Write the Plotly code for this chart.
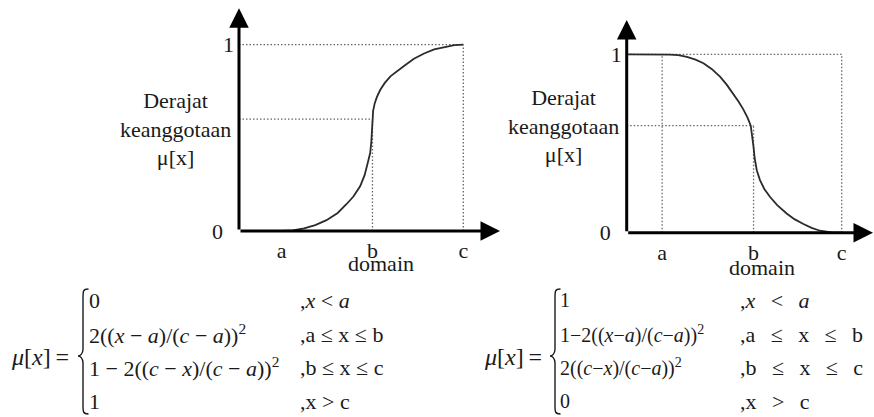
import plotly.graph_objects as go

W, H = 874, 417
FONT = "Liberation Serif, Times New Roman, serif"
INK = "#1a1a1a"

# ---- S-curve (rising): membership degree sampled along the domain ----
grow_x = [1.9, 2.4, 2.9, 3.4, 3.9, 4.4, 4.8, 5.1, 5.4, 5.6, 5.75, 5.85, 5.9, 5.93, 5.95,
          5.98, 6.05, 6.15, 6.3, 6.5, 6.75, 7.05, 7.4, 7.8, 8.25, 8.7, 9.2, 9.6, 10.0]
grow_y = [0.0, 0.003, 0.014, 0.032, 0.058, 0.097, 0.145, 0.185, 0.24, 0.30, 0.37, 0.42, 0.48, 0.54, 0.60,
          0.645, 0.685, 0.72, 0.758, 0.795, 0.83, 0.86, 0.89, 0.925, 0.953, 0.975, 0.99, 0.998, 1.0]
grow_abc = [1.9, 5.95, 10.0]

# ---- S-curve (falling) ----
shrink_x = [0.0, 1.65, 2.0, 2.4, 2.8, 3.2, 3.57, 3.95, 4.34, 4.65, 4.96, 5.2, 5.43, 5.62, 5.77, 5.85,
            5.9, 5.95, 6.05, 6.2, 6.4, 6.67, 7.0, 7.44, 7.8, 8.22, 8.6, 8.99, 9.3, 9.6, 10.0]
shrink_y = [1.0, 1.0, 0.998, 0.995, 0.985, 0.97, 0.95, 0.918, 0.875, 0.83, 0.78, 0.735, 0.69, 0.645, 0.60, 0.54,
            0.48, 0.42, 0.35, 0.295, 0.245, 0.20, 0.155, 0.108, 0.076, 0.049, 0.027, 0.011, 0.004, 0.0, 0.0]
shrink_abc = [1.65, 5.9, 10.0]

mid_level = 0.6
x_tick_text = ["a", "b", "c"]
y_tick_vals = [0, 1]
y_tick_text = ["0\u2002", "1"]

y_title = "Derajat<br>keanggotaan<br>\u03bc[x]"
x_title = "domain"

grow_rows = [
    "0",
    "2((<i>x</i> \u2212 <i>a</i>)/(<i>c</i> \u2212 <i>a</i>))<sup>2</sup>",
    "1 \u2212 2((<i>c</i> \u2212 <i>x</i>)/(<i>c</i> \u2212 <i>a</i>))<sup>2</sup>",
    "1",
]
shrink_rows = [
    "1",
    "1\u22122((<i>x</i>\u2212<i>a</i>)/(<i>c</i>\u2212<i>a</i>))<sup>2</sup>",
    "2((<i>c</i>\u2212<i>x</i>)/(<i>c</i>\u2212<i>a</i>))<sup>2</sup>",
    "0",
]
grow_conditions = [
    ",<i>x</i> &lt; <i>a</i>",
    ",a \u2264 x \u2264 b",
    ",b \u2264 x \u2264 c",
    ",x &gt; c",
]
GAP = "\u2002\u2009"
shrink_conditions = [
    f",<i>x</i>{GAP}&lt;{GAP}<i>a</i>",
    f",a{GAP}\u2264{GAP}x{GAP}\u2264{GAP}b",
    f",b{GAP}\u2264{GAP}x{GAP}\u2264{GAP}c",
    f",x{GAP}&gt;{GAP}c",
]
lhs = "<i>\u03bc</i>[<i>x</i>]\u2009=\u2009"


def px(x):
    return x / W


def py(y):
    return 1 - y / H


# panel geometry in pixels: origin, pixels per domain unit, pixels per membership unit, arrow tips
panels = [
    dict(ox=239.0, oy=231.0, ux=22.43, uy=186.3, tipx=500.0, tipy=8.3),
    dict(ox=626.7, oy=232.7, ux=21.5, uy=178.4, tipx=873.0, tipy=20.0),
]

fig = go.Figure()
layout_axes = {}
for i, p in enumerate(panels):
    sfx = "" if i == 0 else str(i + 1)
    xr = (p["tipx"] - p["ox"]) / p["ux"]
    yr = (p["oy"] - p["tipy"]) / p["uy"]
    p["xr"], p["yr"] = xr, yr
    abc = grow_abc if i == 0 else shrink_abc
    layout_axes["xaxis" + sfx] = dict(
        domain=[px(p["ox"]), px(p["tipx"])], range=[0, xr], anchor="y" + sfx,
        showgrid=False, zeroline=False, showline=False, ticks="",
        tickvals=abc, ticktext=x_tick_text, ticklabelstandoff=4,
        tickfont=dict(family=FONT, size=22, color=INK), automargin=False, fixedrange=True,
    )
    layout_axes["yaxis" + sfx] = dict(
        domain=[py(p["oy"]), py(p["tipy"])], range=[0, yr], anchor="x" + sfx,
        showgrid=False, zeroline=False, showline=False, ticks="",
        tickvals=y_tick_vals, ticktext=y_tick_text, ticklabelstandoff=4,
        tickfont=dict(family=FONT, size=22, color=INK), automargin=False, fixedrange=True,
    )

guide_style = dict(color="#666", width=1.3, dash="1.5px,2px")
curve_style = dict(color="#2b2b2b", width=1.8)

# rising curve panel
a, b, c = grow_abc
fig.add_trace(go.Scatter(
    x=[0, c, None, c, c, None, 0, b, None, b, b],
    y=[1, 1, None, 0, 1, None, mid_level, mid_level, None, 0, mid_level],
    mode="lines", line=guide_style, xaxis="x", yaxis="y", hoverinfo="skip", showlegend=False,
))
fig.add_trace(go.Scatter(x=grow_x, y=grow_y, mode="lines", line=curve_style,
                         xaxis="x", yaxis="y", showlegend=False))

# falling curve panel
a, b, c = shrink_abc
fig.add_trace(go.Scatter(
    x=[0, c, None, c, c, None, a, a, None, 0, b, None, b, b],
    y=[1, 1, None, 0, 1, None, 0, 1, None, mid_level, mid_level, None, 0, mid_level],
    mode="lines", line=guide_style, xaxis="x2", yaxis="y2", hoverinfo="skip", showlegend=False,
))
fig.add_trace(go.Scatter(x=shrink_x, y=shrink_y, mode="lines", line=curve_style,
                         xaxis="x2", yaxis="y2", showlegend=False))

annotations = []
# arrowed axes
for i, p in enumerate(panels):
    sfx = "" if i == 0 else str(i + 1)
    for hx, hy in [(p["xr"], 0), (0, p["yr"])]:
        annotations.append(dict(
            xref="x" + sfx, yref="y" + sfx, axref="x" + sfx, ayref="y" + sfx,
            x=hx, y=hy, ax=0, ay=0, text="", showarrow=True,
            arrowhead=2, arrowsize=1.3, arrowwidth=3, arrowcolor="black", standoff=0,
        ))

txt = dict(family=FONT, size=22, color=INK)
# axis titles
for cx, cy in [(175, 129), (563, 126)]:
    annotations.append(dict(xref="paper", yref="paper", x=px(cx), y=py(cy), text=y_title,
                            showarrow=False, xanchor="center", yanchor="middle", font=txt))
for cx, cy in [(381, 263), (762, 267)]:
    annotations.append(dict(xref="paper", yref="paper", x=px(cx), y=py(cy), text=x_title,
                            showarrow=False, xanchor="center", yanchor="middle", font=txt))

# piecewise definitions
row_y = [300, 334, 367, 401]
blocks = [
    dict(lhs_right=76, brace=78, rows_left=87, cond_left=298, rows=grow_rows,
         conds=grow_conditions, expr_size=22),
    dict(lhs_right=549, brace=550, rows_left=558, cond_left=738, rows=shrink_rows,
         conds=shrink_conditions, expr_size=20),
]
shapes = []
for blk in blocks:
    annotations.append(dict(xref="paper", yref="paper", x=px(blk["lhs_right"]), y=py(357),
                            text=lhs, showarrow=False, xanchor="right", yanchor="middle",
                            font=dict(family=FONT, size=24, color=INK)))
    efont = dict(family=FONT, size=blk["expr_size"], color=INK)
    for ry, row, cond in zip(row_y, blk["rows"], blk["conds"]):
        annotations.append(dict(xref="paper", yref="paper", x=px(blk["rows_left"]), y=py(ry),
                                text=row, showarrow=False, xanchor="left", yanchor="middle", font=efont))
        annotations.append(dict(xref="paper", yref="paper", x=px(blk["cond_left"]), y=py(ry),
                                text=cond, showarrow=False, xanchor="left", yanchor="middle", font=txt))
    # curly brace
    p0 = blk["brace"]
    sx, hx = p0 + 5, p0 + 10.5
    t, m, btm = 289, 356, 414
    pts = [
        ("M", [(hx, t)]),
        ("C", [(sx, t), (sx, t + 2), (sx, t + 9)]),
        ("L", [(sx, m - 7)]),
        ("C", [(sx, m - 2), (p0 + 2, m), (p0, m)]),
        ("C", [(p0 + 2, m), (sx, m + 2), (sx, m + 7)]),
        ("L", [(sx, btm - 9)]),
        ("C", [(sx, btm - 2), (sx, btm), (hx, btm)]),
    ]
    path = " ".join(
        cmd + " " + " ".join(f"{px(x):.5f},{py(y):.5f}" for x, y in coords) for cmd, coords in pts
    )
    shapes.append(dict(type="path", xref="paper", yref="paper", path=path,
                       line=dict(color=INK, width=1.4)))

fig.update_layout(
    template="none",
    width=W, height=H,
    margin=dict(l=0, r=0, t=0, b=0, pad=0),
    paper_bgcolor="white", plot_bgcolor="rgba(0,0,0,0)",
    showlegend=False,
    annotations=annotations,
    shapes=shapes,
    **layout_axes,
)

fig.write_html("out.html", config={"displayModeBar": False})
